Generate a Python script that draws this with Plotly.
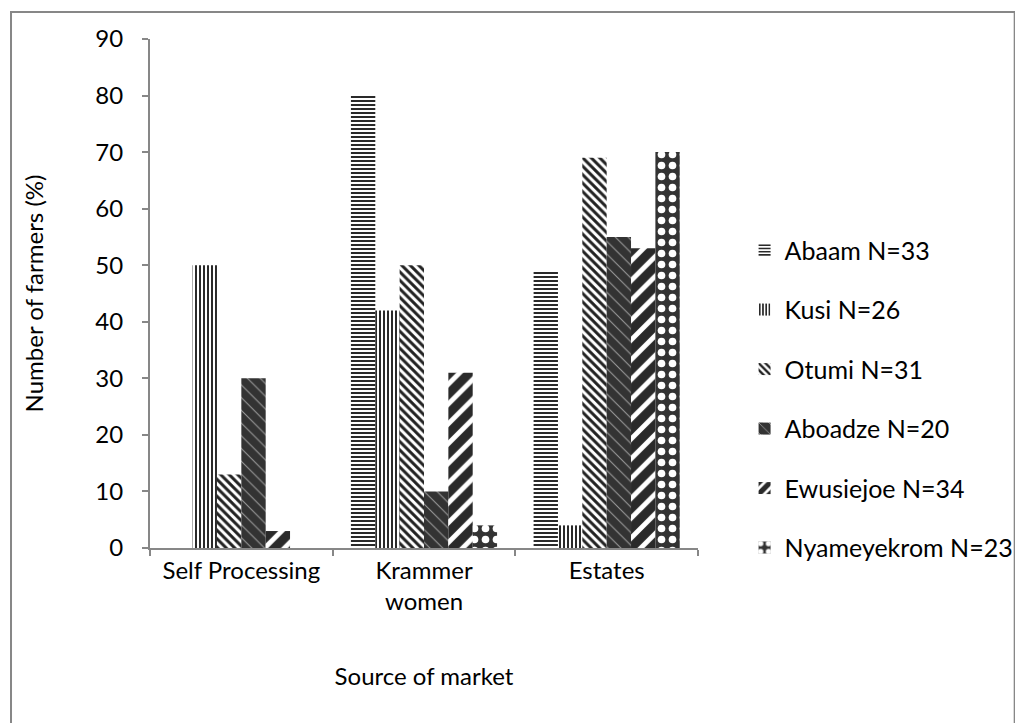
import plotly.graph_objects as go

categories = ["Self Processing", "Krammer<br>women", "Estates"]
series_names = ["Abaam N=33", "Kusi N=26", "Otumi N=31", "Aboadze N=20", "Ewusiejoe N=34", "Nyameyekrom N=23"]
abaam = [0, 80, 49]
kusi = [50, 42, 4]
otumi = [13, 50, 69]
aboadze = [30, 10, 55]
ewusiejoe = [3, 31, 53]
nyameyekrom = [0, 4, 70]
values = [abaam, kusi, otumi, aboadze, ewusiejoe, nyameyekrom]
y_ticks = list(range(0, 91, 10))

patterns = [
    dict(shape="-", fgcolor="#2a2a2a", bgcolor="#ffffff", size=4, solidity=0.5, fgopacity=1),
    dict(shape="|", fgcolor="#2a2a2a", bgcolor="#ffffff", size=4, solidity=0.5, fgopacity=1),
    dict(shape="\\", fgcolor="#222222", bgcolor="#ffffff", size=6, solidity=0.5, fgopacity=1),
    dict(shape="\\", fgcolor="#9a9a9a", bgcolor="#333333", size=9, solidity=0.12, fgopacity=1),
    dict(shape="/", fgcolor="#2a2a2a", bgcolor="#ffffff", size=14, solidity=0.65, fgopacity=1),
    dict(shape=".", fgcolor="#ffffff", bgcolor="#333333", size=11, solidity=0.38, fgopacity=1),
]

fig = go.Figure()
for name, vals, pat in zip(series_names, values, patterns):
    fig.add_trace(go.Bar(
        x=categories, y=vals, name=name, legendgroup=name,
        marker=dict(color=pat["bgcolor"], pattern=pat, line=dict(width=0)),
    ))

font = "Lato, 'Open Sans', sans-serif"
L, T, W, H = 142, 31, 552, 509
fig.update_layout(
    width=1023, height=723,
    margin=dict(l=L, r=1023 - L - W, t=T, b=723 - T - H),
    paper_bgcolor="white", plot_bgcolor="white",
    barmode="group", bargap=0.2, bargroupgap=0,
    font=dict(family=font, size=24, color="black"),
    showlegend=True,
    legend=dict(x=1.085, y=0.63, xanchor="left", yanchor="top",
                tracegroupgap=24, font=dict(size=25), itemwidth=30,
                bgcolor="rgba(0,0,0,0)"),
    xaxis=dict(
        showline=True, linecolor="#878787", linewidth=2,
        ticks="outside", tickson="boundaries", ticklen=6, tickcolor="#878787", tickwidth=2,
        title=dict(text="Source of market", standoff=54, font=dict(size=24)),
        tickfont=dict(size=24),
    ),
    yaxis=dict(
        range=[0, 90], tickvals=y_ticks,
        showline=True, linecolor="#878787", linewidth=2,
        ticks="outside", ticklen=6, tickcolor="#878787", tickwidth=2,
        ticklabelstandoff=14,
        showgrid=False, zeroline=False,
        title=dict(text="Number of farmers (%)", standoff=45, font=dict(size=24)),
        tickfont=dict(size=24),
    ),
    shapes=[dict(type="rect", xref="paper", yref="paper",
                 x0=(2 - L) / W, x1=(1013 - L) / W,
                 y0=(T + H - 740) / H, y1=(T + H - 4) / H,
                 line=dict(color="#878787", width=2), fillcolor="rgba(0,0,0,0)",
                 layer="below")],
)

fig.write_html("out.html")
